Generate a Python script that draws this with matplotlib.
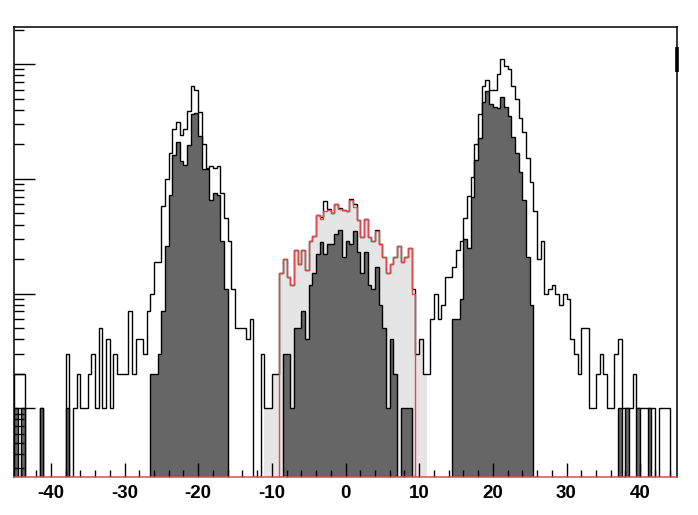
import numpy as np
import matplotlib
matplotlib.use("Agg")
from matplotlib import pyplot as plt
from matplotlib.ticker import MultipleLocator, LogLocator, NullFormatter

# binning: 180 bins of 0.5 between -45 and 45
X_LO, X_HI, N_BINS = -45.0, 45.0, 180

# all entries (open black outline), one value per bin
ALL_COUNTS = [
    2, 2, 2, 0, 0, 0, 0, 1, 0, 0, 0, 0, 0, 0, 3, 0, 1, 2, 1, 1,
    2, 3, 1, 5, 1, 4, 1, 3, 2, 2, 2, 7, 2, 4, 4, 3, 7, 10, 19, 19,
    58, 99, 169, 272, 311, 241, 275, 388, 646, 596, 381, 202, 124, 130, 124, 130, 75, 46, 29, 11,
    5, 5, 5, 4, 6, 0, 0, 3, 1, 1, 2, 2, 15, 20, 14, 12, 24, 18, 24, 16,
    29, 32, 48, 47, 64, 55, 50, 61, 56, 54, 52, 67, 60, 44, 31, 45, 31, 29, 36, 27,
    21, 15, 18, 21, 26, 19, 21, 25, 11, 3, 4, 2, 2, 6, 10, 6, 8, 14, 14, 17,
    24, 29, 46, 71, 104, 200, 366, 646, 729, 596, 596, 817, 1111, 960, 900, 650, 500, 340, 255, 151,
    94, 53, 20, 29, 10, 11, 12, 10, 8, 10, 9, 4, 3, 2, 5, 5, 1, 1, 2, 3,
    2, 1, 1, 3, 4, 1, 1, 1, 2, 1, 1, 1, 1, 1, 0, 1, 1, 1, 0, 0,
]

# selected entries (dark filled), one value per bin
DARK_COUNTS = [
    1, 0, 1, 0, 0, 0, 0, 1, 0, 0, 0, 0, 0, 0, 1, 0, 0, 0, 0, 0,
    0, 0, 0, 0, 0, 0, 0, 0, 0, 0, 0, 0, 0, 0, 0, 0, 0, 2, 2, 3,
    7, 26, 72, 162, 211, 142, 132, 197, 368, 372, 238, 121, 121, 66, 76, 72, 29, 11, 0, 0,
    0, 0, 0, 0, 0, 0, 0, 0, 0, 0, 0, 0, 0, 3, 3, 1, 5, 5, 7, 4,
    12, 15, 22, 28, 22, 27, 27, 33, 36, 21, 29, 27, 35, 23, 15, 23, 12, 11, 17, 8,
    5, 1, 4, 2, 0, 1, 1, 1, 0, 0, 0, 0, 0, 0, 0, 0, 0, 0, 0, 6,
    6, 9, 30, 25, 70, 146, 226, 472, 584, 447, 426, 416, 521, 426, 356, 234, 167, 116, 65, 21,
    8, 0, 0, 0, 0, 0, 0, 0, 0, 0, 0, 0, 0, 0, 0, 0, 0, 0, 0, 0,
    0, 0, 0, 0, 1, 0, 1, 0, 0, 1, 0, 0, 1, 0, 0, 0, 0, 0, 0, 0,
]

# central window (red outline), bins from -9 to 9.5
RED_FROM = -9.0
RED_COUNTS = [
    15, 20, 14, 12, 24, 18, 24, 16, 29, 32,
    48, 45, 52, 54, 50, 60, 55, 54, 52, 65,
    57, 44, 31, 45, 31, 29, 35, 27, 21, 15,
    18, 21, 26, 19, 21, 25, 10,
]

# light grey band, from -11 to 11 (edges outside the red window)
GRAY_FROM = -11.0
GRAY_LEFT = [1, 1, 2, 2]
GRAY_RIGHT = [3, 4, 2]

TICK_LABELS = ['-40', '-30', '-20', '-10', '0', '10', '20', '30', '40']

color_dark = '#666666'
color_light = '#e5e5e5'
color_red = '#e04a4a'
FLOOR = 0.1  # below the visible range, stands in for empty bins on log axis

edges = np.linspace(X_LO, X_HI, N_BINS + 1)
width = (X_HI - X_LO) / N_BINS


def place(start, vals):
    full = np.zeros(N_BINS)
    i0 = int(round((start - X_LO) / width))
    full[i0:i0 + len(vals)] = vals
    return full


def floor0(v):
    v = np.asarray(v, dtype=float)
    return np.where(v > 0, v, FLOOR)


all_h = np.array(ALL_COUNTS, dtype=float)
dark_h = np.array(DARK_COUNTS, dtype=float)
red_h = place(RED_FROM, RED_COUNTS)
gray_h = place(GRAY_FROM, GRAY_LEFT + RED_COUNTS + GRAY_RIGHT)

plt.rcParams['font.family'] = ['Liberation Sans', 'DejaVu Sans']
plt.rcParams['axes.unicode_minus'] = False

fig = plt.figure(figsize=(6.98, 5.15), dpi=100)
ax = fig.add_axes([14 / 698, 38 / 515, 663 / 698, 450 / 515])

ax.stairs(floor0(gray_h), edges, baseline=FLOOR, fill=True, color=color_light, lw=0)
ax.stairs(floor0(all_h), edges, baseline=FLOOR, color='black', lw=1.0)
ax.stairs(floor0(red_h), edges, baseline=FLOOR, color=color_red, lw=1.0)
ax.stairs(floor0(dark_h), edges, baseline=FLOOR, fill=True, color=color_dark, lw=0)
ax.stairs(floor0(dark_h), edges, baseline=FLOOR, color='black', lw=1.0)

ax.set_yscale('log')
ax.set_xlim(X_LO, X_HI)
ax.set_ylim(0.252, 2110)

ax.xaxis.set_major_locator(MultipleLocator(10))
ax.xaxis.set_minor_locator(MultipleLocator(2))
ax.set_xticks(np.arange(-40, 41, 10))
ax.set_xticklabels(TICK_LABELS, fontsize=13.5, fontweight='bold')

ax.yaxis.set_major_locator(LogLocator(base=10))
ax.yaxis.set_minor_locator(LogLocator(base=10, subs=np.arange(2, 10)))
ax.yaxis.set_minor_formatter(NullFormatter())

ax.tick_params(axis='x', which='major', direction='in', length=10, width=1, pad=6)
ax.tick_params(axis='x', which='minor', direction='in', length=5, width=1)
ax.tick_params(axis='y', which='major', direction='in', length=15, width=1, labelleft=False)
ax.tick_params(axis='y', which='minor', direction='in', length=7.5, width=1)

for s in ax.spines.values():
    s.set_linewidth(1.1)
ax.spines['bottom'].set_color(color_red)

# short heavy mark on the right frame edge
ax.plot([1, 1], [0.899, 0.956], transform=ax.transAxes, color='black',
        lw=2.6, clip_on=False, solid_capstyle='butt')

fig.savefig('out.png', dpi=100)
